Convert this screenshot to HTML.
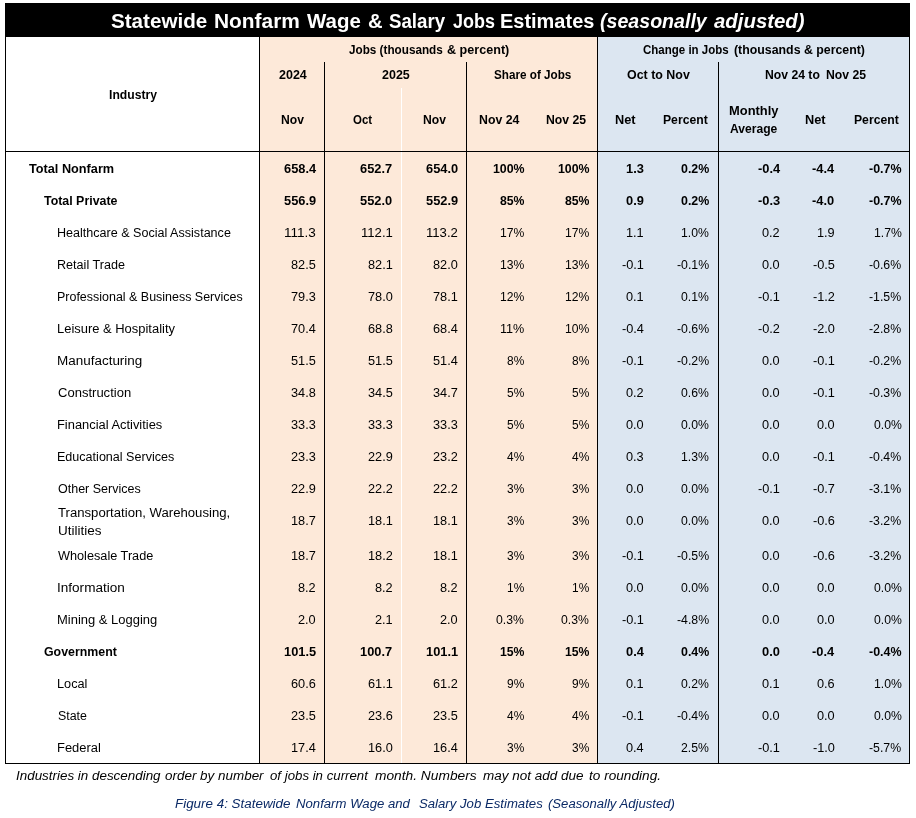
<!DOCTYPE html>
<html lang="en">
<head>
<meta charset="utf-8">
<title>Statewide Nonfarm Wage &amp; Salary Jobs Estimates</title>
<style>
html,body{margin:0;padding:0;background:#fff;}
body{width:916px;height:818px;position:relative;overflow:hidden;font-family:"Liberation Sans",sans-serif;}
#txt{position:absolute;left:0;top:0;width:916px;height:818px;will-change:transform;transform:translateZ(0);}
.b{position:absolute;}
.t{position:absolute;white-space:nowrap;line-height:1;margin:0;padding:0;transform-origin:0 0;font-size:12.5px;color:#000;}
.bd{font-weight:bold;}
.it{font-style:italic;}
.w{color:#fff;font-size:19.4px;}
</style>
</head>
<body>
<div class="b" style="left:5px;top:3px;width:905px;height:761px;background:#000"></div>
<div class="b" style="left:6px;top:37px;width:253px;height:726px;background:#fff"></div>
<div class="b" style="left:260px;top:37px;width:337px;height:726px;background:#FDE9D9"></div>
<div class="b" style="left:598px;top:37px;width:311px;height:726px;background:#DCE6F1"></div>
<div class="b" style="left:401px;top:88px;width:1px;height:675px;background:#fff"></div>
<div class="b" style="left:324px;top:62px;width:1px;height:701px;background:#000"></div>
<div class="b" style="left:466px;top:62px;width:1px;height:701px;background:#000"></div>
<div class="b" style="left:718px;top:62px;width:1px;height:701px;background:#000"></div>
<div class="b" style="left:5px;top:151px;width:905px;height:1px;background:#000"></div>
<div id="txt">
<div class="t bd w" style="left:110.80px;top:11.98px;transform:scaleX(1.0636);">Statewide</div>
<div class="t bd w" style="left:213.72px;top:11.98px;transform:scaleX(1.0767);">Nonfarm</div>
<div class="t bd w" style="left:306.50px;top:11.98px;transform:scaleX(1.0545);">Wage</div>
<div class="t bd w" style="left:367.70px;top:11.98px;transform:scaleX(1.0429);">&amp;</div>
<div class="t bd w" style="left:389.20px;top:11.98px;transform:scaleX(0.9635);">Salary</div>
<div class="t bd w" style="left:452.80px;top:11.98px;transform:scaleX(0.9264);">Jobs</div>
<div class="t bd w" style="left:499.97px;top:11.98px;transform:scaleX(1.0297);">Estimates</div>
<div class="t bd it w" style="left:599.60px;top:11.98px;transform:scaleX(1.0108);">(seasonally</div>
<div class="t bd it w" style="left:714.40px;top:11.98px;transform:scaleX(1.0510);">adjusted)</div>
<div class="t bd" style="left:108.80px;top:88.82px;transform:scaleX(0.9725);">Industry</div>
<div class="t bd" style="left:348.80px;top:44.12px;transform:scaleX(0.9375);">Jobs (thousands</div>
<div class="t bd" style="left:447.10px;top:44.12px;transform:scaleX(1.0072);">&amp; percent)</div>
<div class="t bd" style="left:643.30px;top:44.12px;transform:scaleX(0.9204);">Change in Jobs</div>
<div class="t bd" style="left:733.50px;top:44.12px;transform:scaleX(0.9873);">(thousands &amp; percent)</div>
<div class="t bd" style="left:278.70px;top:69.22px;transform:scaleX(0.9980);">2024</div>
<div class="t bd" style="left:382.30px;top:69.22px;transform:scaleX(0.9980);">2025</div>
<div class="t bd" style="left:494.40px;top:69.22px;transform:scaleX(0.9358);">Share of Jobs</div>
<div class="t bd" style="left:627.20px;top:69.22px;transform:scaleX(0.9946);">Oct to Nov</div>
<div class="t bd" style="left:765.30px;top:69.22px;transform:scaleX(0.9748);">Nov 24 to</div>
<div class="t bd" style="left:825.60px;top:69.22px;transform:scaleX(0.9771);">Nov 25</div>
<div class="t bd" style="left:281.20px;top:114.02px;transform:scaleX(0.9720);">Nov</div>
<div class="t bd" style="left:353.35px;top:114.02px;transform:scaleX(0.9181);">Oct</div>
<div class="t bd" style="left:422.50px;top:114.02px;transform:scaleX(0.9720);">Nov</div>
<div class="t bd" style="left:479.40px;top:114.02px;transform:scaleX(0.9844);">Nov 24</div>
<div class="t bd" style="left:545.50px;top:114.02px;transform:scaleX(0.9771);">Nov 25</div>
<div class="t bd" style="left:615.00px;top:114.02px;transform:scaleX(1.0201);">Net</div>
<div class="t bd" style="left:663.25px;top:114.02px;transform:scaleX(0.9744);">Percent</div>
<div class="t bd" style="left:728.85px;top:105.12px;transform:scaleX(1.0322);">Monthly</div>
<div class="t bd" style="left:729.65px;top:122.72px;transform:scaleX(0.9669);">Average</div>
<div class="t bd" style="left:805.10px;top:114.02px;transform:scaleX(1.0201);">Net</div>
<div class="t bd" style="left:854.25px;top:114.02px;transform:scaleX(0.9744);">Percent</div>
<div class="t bd" style="left:29.20px;top:163.02px;transform:scaleX(1.0158);">Total Nonfarm</div>
<div class="t bd" style="left:283.87px;top:163.02px;transform:scaleX(1.0256);">658.4</div>
<div class="t bd" style="left:360.37px;top:163.02px;transform:scaleX(1.0256);">652.7</div>
<div class="t bd" style="left:425.87px;top:163.02px;transform:scaleX(1.0256);">654.0</div>
<div class="t bd" style="left:492.60px;top:163.02px;transform:scaleX(0.9888);">100%</div>
<div class="t bd" style="left:557.70px;top:163.02px;transform:scaleX(0.9888);">100%</div>
<div class="t bd" style="left:626.07px;top:163.02px;transform:scaleX(1.0292);">1.3</div>
<div class="t bd" style="left:681.06px;top:163.02px;transform:scaleX(0.9917);">0.2%</div>
<div class="t bd" style="left:757.78px;top:163.02px;transform:scaleX(1.0292);">-0.4</div>
<div class="t bd" style="left:812.38px;top:163.02px;transform:scaleX(1.0292);">-4.4</div>
<div class="t bd" style="left:868.88px;top:163.02px;transform:scaleX(0.9965);">-0.7%</div>
<div class="t bd" style="left:44.00px;top:195.02px;transform:scaleX(0.9913);">Total Private</div>
<div class="t bd" style="left:283.87px;top:195.02px;transform:scaleX(1.0256);">556.9</div>
<div class="t bd" style="left:360.37px;top:195.02px;transform:scaleX(1.0256);">552.0</div>
<div class="t bd" style="left:425.87px;top:195.02px;transform:scaleX(1.0256);">552.9</div>
<div class="t bd" style="left:499.70px;top:195.02px;transform:scaleX(0.9799);">85%</div>
<div class="t bd" style="left:564.80px;top:195.02px;transform:scaleX(0.9799);">85%</div>
<div class="t bd" style="left:626.07px;top:195.02px;transform:scaleX(1.0292);">0.9</div>
<div class="t bd" style="left:681.06px;top:195.02px;transform:scaleX(0.9917);">0.2%</div>
<div class="t bd" style="left:757.78px;top:195.02px;transform:scaleX(1.0292);">-0.3</div>
<div class="t bd" style="left:812.38px;top:195.02px;transform:scaleX(1.0292);">-4.0</div>
<div class="t bd" style="left:868.88px;top:195.02px;transform:scaleX(0.9965);">-0.7%</div>
<div class="t" style="left:57.30px;top:227.02px;transform:scaleX(1.0050);">Healthcare &amp; Social Assistance</div>
<div class="t" style="left:284.08px;top:227.02px;transform:scaleX(1.0830);">111.3</div>
<div class="t" style="left:360.58px;top:227.02px;transform:scaleX(1.0500);">112.1</div>
<div class="t" style="left:426.08px;top:227.02px;transform:scaleX(1.0500);">113.2</div>
<div class="t" style="left:499.89px;top:227.02px;transform:scaleX(0.9720);">17%</div>
<div class="t" style="left:564.99px;top:227.02px;transform:scaleX(0.9720);">17%</div>
<div class="t" style="left:626.28px;top:227.02px;transform:scaleX(1.0172);">1.1</div>
<div class="t" style="left:681.47px;top:227.02px;transform:scaleX(0.9774);">1.0%</div>
<div class="t" style="left:762.28px;top:227.02px;transform:scaleX(1.0172);">0.2</div>
<div class="t" style="left:816.88px;top:227.02px;transform:scaleX(1.0172);">1.9</div>
<div class="t" style="left:873.57px;top:227.02px;transform:scaleX(0.9774);">1.7%</div>
<div class="t" style="left:57.29px;top:259.02px;transform:scaleX(1.0080);">Retail Trade</div>
<div class="t" style="left:291.18px;top:259.02px;transform:scaleX(1.0183);">82.5</div>
<div class="t" style="left:367.68px;top:259.02px;transform:scaleX(1.0183);">82.1</div>
<div class="t" style="left:433.18px;top:259.02px;transform:scaleX(1.0183);">82.0</div>
<div class="t" style="left:499.89px;top:259.02px;transform:scaleX(0.9720);">13%</div>
<div class="t" style="left:564.99px;top:259.02px;transform:scaleX(0.9720);">13%</div>
<div class="t" style="left:621.99px;top:259.02px;transform:scaleX(1.0195);">-0.1</div>
<div class="t" style="left:677.18px;top:259.02px;transform:scaleX(0.9840);">-0.1%</div>
<div class="t" style="left:762.28px;top:259.02px;transform:scaleX(1.0172);">0.0</div>
<div class="t" style="left:812.59px;top:259.02px;transform:scaleX(1.0195);">-0.5</div>
<div class="t" style="left:869.28px;top:259.02px;transform:scaleX(0.9840);">-0.6%</div>
<div class="t" style="left:57.30px;top:291.02px;transform:scaleX(0.9971);">Professional &amp; Business Services</div>
<div class="t" style="left:291.18px;top:291.02px;transform:scaleX(1.0183);">79.3</div>
<div class="t" style="left:367.68px;top:291.02px;transform:scaleX(1.0183);">78.0</div>
<div class="t" style="left:433.18px;top:291.02px;transform:scaleX(1.0183);">78.1</div>
<div class="t" style="left:499.89px;top:291.02px;transform:scaleX(0.9720);">12%</div>
<div class="t" style="left:564.99px;top:291.02px;transform:scaleX(0.9720);">12%</div>
<div class="t" style="left:626.28px;top:291.02px;transform:scaleX(1.0172);">0.1</div>
<div class="t" style="left:681.47px;top:291.02px;transform:scaleX(0.9774);">0.1%</div>
<div class="t" style="left:757.99px;top:291.02px;transform:scaleX(1.0195);">-0.1</div>
<div class="t" style="left:812.59px;top:291.02px;transform:scaleX(1.0195);">-1.2</div>
<div class="t" style="left:869.28px;top:291.02px;transform:scaleX(0.9840);">-1.5%</div>
<div class="t" style="left:57.26px;top:323.02px;transform:scaleX(1.0353);">Leisure &amp; Hospitality</div>
<div class="t" style="left:291.18px;top:323.02px;transform:scaleX(1.0183);">70.4</div>
<div class="t" style="left:367.68px;top:323.02px;transform:scaleX(1.0183);">68.8</div>
<div class="t" style="left:433.18px;top:323.02px;transform:scaleX(1.0183);">68.4</div>
<div class="t" style="left:499.89px;top:323.02px;transform:scaleX(1.0096);">11%</div>
<div class="t" style="left:564.99px;top:323.02px;transform:scaleX(0.9720);">10%</div>
<div class="t" style="left:621.99px;top:323.02px;transform:scaleX(1.0195);">-0.4</div>
<div class="t" style="left:677.18px;top:323.02px;transform:scaleX(0.9840);">-0.6%</div>
<div class="t" style="left:757.99px;top:323.02px;transform:scaleX(1.0195);">-0.2</div>
<div class="t" style="left:812.59px;top:323.02px;transform:scaleX(1.0195);">-2.0</div>
<div class="t" style="left:869.28px;top:323.02px;transform:scaleX(0.9840);">-2.8%</div>
<div class="t" style="left:57.22px;top:355.02px;transform:scaleX(1.0772);">Manufacturing</div>
<div class="t" style="left:291.18px;top:355.02px;transform:scaleX(1.0183);">51.5</div>
<div class="t" style="left:367.68px;top:355.02px;transform:scaleX(1.0183);">51.5</div>
<div class="t" style="left:433.18px;top:355.02px;transform:scaleX(1.0183);">51.4</div>
<div class="t" style="left:506.99px;top:355.02px;transform:scaleX(0.9530);">8%</div>
<div class="t" style="left:572.09px;top:355.02px;transform:scaleX(0.9530);">8%</div>
<div class="t" style="left:621.99px;top:355.02px;transform:scaleX(1.0195);">-0.1</div>
<div class="t" style="left:677.18px;top:355.02px;transform:scaleX(0.9840);">-0.2%</div>
<div class="t" style="left:762.28px;top:355.02px;transform:scaleX(1.0172);">0.0</div>
<div class="t" style="left:812.59px;top:355.02px;transform:scaleX(1.0195);">-0.1</div>
<div class="t" style="left:869.28px;top:355.02px;transform:scaleX(0.9840);">-0.2%</div>
<div class="t" style="left:58.30px;top:387.02px;transform:scaleX(1.0424);">Construction</div>
<div class="t" style="left:291.18px;top:387.02px;transform:scaleX(1.0183);">34.8</div>
<div class="t" style="left:367.68px;top:387.02px;transform:scaleX(1.0183);">34.5</div>
<div class="t" style="left:433.18px;top:387.02px;transform:scaleX(1.0183);">34.7</div>
<div class="t" style="left:506.99px;top:387.02px;transform:scaleX(0.9530);">5%</div>
<div class="t" style="left:572.09px;top:387.02px;transform:scaleX(0.9530);">5%</div>
<div class="t" style="left:626.28px;top:387.02px;transform:scaleX(1.0172);">0.2</div>
<div class="t" style="left:681.47px;top:387.02px;transform:scaleX(0.9774);">0.6%</div>
<div class="t" style="left:762.28px;top:387.02px;transform:scaleX(1.0172);">0.0</div>
<div class="t" style="left:812.59px;top:387.02px;transform:scaleX(1.0195);">-0.1</div>
<div class="t" style="left:869.28px;top:387.02px;transform:scaleX(0.9840);">-0.3%</div>
<div class="t" style="left:57.27px;top:419.02px;transform:scaleX(1.0309);">Financial Activities</div>
<div class="t" style="left:291.18px;top:419.02px;transform:scaleX(1.0183);">33.3</div>
<div class="t" style="left:367.68px;top:419.02px;transform:scaleX(1.0183);">33.3</div>
<div class="t" style="left:433.18px;top:419.02px;transform:scaleX(1.0183);">33.3</div>
<div class="t" style="left:506.99px;top:419.02px;transform:scaleX(0.9530);">5%</div>
<div class="t" style="left:572.09px;top:419.02px;transform:scaleX(0.9530);">5%</div>
<div class="t" style="left:626.28px;top:419.02px;transform:scaleX(1.0172);">0.0</div>
<div class="t" style="left:681.47px;top:419.02px;transform:scaleX(0.9774);">0.0%</div>
<div class="t" style="left:762.28px;top:419.02px;transform:scaleX(1.0172);">0.0</div>
<div class="t" style="left:816.88px;top:419.02px;transform:scaleX(1.0172);">0.0</div>
<div class="t" style="left:873.57px;top:419.02px;transform:scaleX(0.9774);">0.0%</div>
<div class="t" style="left:57.30px;top:451.02px;transform:scaleX(1.0045);">Educational Services</div>
<div class="t" style="left:291.18px;top:451.02px;transform:scaleX(1.0183);">23.3</div>
<div class="t" style="left:367.68px;top:451.02px;transform:scaleX(1.0183);">22.9</div>
<div class="t" style="left:433.18px;top:451.02px;transform:scaleX(1.0183);">23.2</div>
<div class="t" style="left:506.99px;top:451.02px;transform:scaleX(0.9530);">4%</div>
<div class="t" style="left:572.09px;top:451.02px;transform:scaleX(0.9530);">4%</div>
<div class="t" style="left:626.28px;top:451.02px;transform:scaleX(1.0172);">0.3</div>
<div class="t" style="left:681.47px;top:451.02px;transform:scaleX(0.9774);">1.3%</div>
<div class="t" style="left:762.28px;top:451.02px;transform:scaleX(1.0172);">0.0</div>
<div class="t" style="left:812.59px;top:451.02px;transform:scaleX(1.0195);">-0.1</div>
<div class="t" style="left:869.28px;top:451.02px;transform:scaleX(0.9840);">-0.4%</div>
<div class="t" style="left:58.30px;top:483.02px;transform:scaleX(0.9998);">Other Services</div>
<div class="t" style="left:291.18px;top:483.02px;transform:scaleX(1.0183);">22.9</div>
<div class="t" style="left:367.68px;top:483.02px;transform:scaleX(1.0183);">22.2</div>
<div class="t" style="left:433.18px;top:483.02px;transform:scaleX(1.0183);">22.2</div>
<div class="t" style="left:506.99px;top:483.02px;transform:scaleX(0.9530);">3%</div>
<div class="t" style="left:572.09px;top:483.02px;transform:scaleX(0.9530);">3%</div>
<div class="t" style="left:626.28px;top:483.02px;transform:scaleX(1.0172);">0.0</div>
<div class="t" style="left:681.47px;top:483.02px;transform:scaleX(0.9774);">0.0%</div>
<div class="t" style="left:757.99px;top:483.02px;transform:scaleX(1.0195);">-0.1</div>
<div class="t" style="left:812.59px;top:483.02px;transform:scaleX(1.0195);">-0.7</div>
<div class="t" style="left:869.28px;top:483.02px;transform:scaleX(0.9840);">-3.1%</div>
<div class="t" style="left:58.30px;top:507.12px;transform:scaleX(1.0517);">Transportation, Warehousing,</div>
<div class="t" style="left:58.30px;top:525.12px;transform:scaleX(1.0791);">Utilities</div>
<div class="t" style="left:291.18px;top:515.42px;transform:scaleX(1.0183);">18.7</div>
<div class="t" style="left:367.68px;top:515.42px;transform:scaleX(1.0183);">18.1</div>
<div class="t" style="left:433.18px;top:515.42px;transform:scaleX(1.0183);">18.1</div>
<div class="t" style="left:506.99px;top:515.42px;transform:scaleX(0.9530);">3%</div>
<div class="t" style="left:572.09px;top:515.42px;transform:scaleX(0.9530);">3%</div>
<div class="t" style="left:626.28px;top:515.42px;transform:scaleX(1.0172);">0.0</div>
<div class="t" style="left:681.47px;top:515.42px;transform:scaleX(0.9774);">0.0%</div>
<div class="t" style="left:762.28px;top:515.42px;transform:scaleX(1.0172);">0.0</div>
<div class="t" style="left:812.59px;top:515.42px;transform:scaleX(1.0195);">-0.6</div>
<div class="t" style="left:869.28px;top:515.42px;transform:scaleX(0.9840);">-3.2%</div>
<div class="t" style="left:58.30px;top:550.02px;transform:scaleX(1.0162);">Wholesale Trade</div>
<div class="t" style="left:291.18px;top:550.02px;transform:scaleX(1.0183);">18.7</div>
<div class="t" style="left:367.68px;top:550.02px;transform:scaleX(1.0183);">18.2</div>
<div class="t" style="left:433.18px;top:550.02px;transform:scaleX(1.0183);">18.1</div>
<div class="t" style="left:506.99px;top:550.02px;transform:scaleX(0.9530);">3%</div>
<div class="t" style="left:572.09px;top:550.02px;transform:scaleX(0.9530);">3%</div>
<div class="t" style="left:621.99px;top:550.02px;transform:scaleX(1.0195);">-0.1</div>
<div class="t" style="left:677.18px;top:550.02px;transform:scaleX(0.9840);">-0.5%</div>
<div class="t" style="left:762.28px;top:550.02px;transform:scaleX(1.0172);">0.0</div>
<div class="t" style="left:812.59px;top:550.02px;transform:scaleX(1.0195);">-0.6</div>
<div class="t" style="left:869.28px;top:550.02px;transform:scaleX(0.9840);">-3.2%</div>
<div class="t" style="left:57.22px;top:582.02px;transform:scaleX(1.0848);">Information</div>
<div class="t" style="left:298.28px;top:582.02px;transform:scaleX(1.0172);">8.2</div>
<div class="t" style="left:374.78px;top:582.02px;transform:scaleX(1.0172);">8.2</div>
<div class="t" style="left:440.28px;top:582.02px;transform:scaleX(1.0172);">8.2</div>
<div class="t" style="left:506.99px;top:582.02px;transform:scaleX(0.9530);">1%</div>
<div class="t" style="left:572.09px;top:582.02px;transform:scaleX(0.9530);">1%</div>
<div class="t" style="left:626.28px;top:582.02px;transform:scaleX(1.0172);">0.0</div>
<div class="t" style="left:681.47px;top:582.02px;transform:scaleX(0.9774);">0.0%</div>
<div class="t" style="left:762.28px;top:582.02px;transform:scaleX(1.0172);">0.0</div>
<div class="t" style="left:816.88px;top:582.02px;transform:scaleX(1.0172);">0.0</div>
<div class="t" style="left:873.57px;top:582.02px;transform:scaleX(0.9774);">0.0%</div>
<div class="t" style="left:57.26px;top:614.02px;transform:scaleX(1.0372);">Mining &amp; Logging</div>
<div class="t" style="left:298.28px;top:614.02px;transform:scaleX(1.0172);">2.0</div>
<div class="t" style="left:374.78px;top:614.02px;transform:scaleX(1.0172);">2.1</div>
<div class="t" style="left:440.28px;top:614.02px;transform:scaleX(1.0172);">2.0</div>
<div class="t" style="left:496.37px;top:614.02px;transform:scaleX(0.9774);">0.3%</div>
<div class="t" style="left:561.47px;top:614.02px;transform:scaleX(0.9774);">0.3%</div>
<div class="t" style="left:621.99px;top:614.02px;transform:scaleX(1.0195);">-0.1</div>
<div class="t" style="left:677.18px;top:614.02px;transform:scaleX(0.9840);">-4.8%</div>
<div class="t" style="left:762.28px;top:614.02px;transform:scaleX(1.0172);">0.0</div>
<div class="t" style="left:816.88px;top:614.02px;transform:scaleX(1.0172);">0.0</div>
<div class="t" style="left:873.57px;top:614.02px;transform:scaleX(0.9774);">0.0%</div>
<div class="t bd" style="left:44.00px;top:646.02px;transform:scaleX(0.9897);">Government</div>
<div class="t bd" style="left:283.87px;top:646.02px;transform:scaleX(1.0256);">101.5</div>
<div class="t bd" style="left:360.37px;top:646.02px;transform:scaleX(1.0256);">100.7</div>
<div class="t bd" style="left:425.87px;top:646.02px;transform:scaleX(1.0256);">101.1</div>
<div class="t bd" style="left:499.70px;top:646.02px;transform:scaleX(0.9799);">15%</div>
<div class="t bd" style="left:564.80px;top:646.02px;transform:scaleX(0.9799);">15%</div>
<div class="t bd" style="left:626.07px;top:646.02px;transform:scaleX(1.0292);">0.4</div>
<div class="t bd" style="left:681.06px;top:646.02px;transform:scaleX(0.9917);">0.4%</div>
<div class="t bd" style="left:762.07px;top:646.02px;transform:scaleX(1.0292);">0.0</div>
<div class="t bd" style="left:812.38px;top:646.02px;transform:scaleX(1.0292);">-0.4</div>
<div class="t bd" style="left:868.88px;top:646.02px;transform:scaleX(0.9965);">-0.4%</div>
<div class="t" style="left:57.28px;top:678.02px;transform:scaleX(1.0176);">Local</div>
<div class="t" style="left:291.18px;top:678.02px;transform:scaleX(1.0183);">60.6</div>
<div class="t" style="left:367.68px;top:678.02px;transform:scaleX(1.0183);">61.1</div>
<div class="t" style="left:433.18px;top:678.02px;transform:scaleX(1.0183);">61.2</div>
<div class="t" style="left:506.99px;top:678.02px;transform:scaleX(0.9530);">9%</div>
<div class="t" style="left:572.09px;top:678.02px;transform:scaleX(0.9530);">9%</div>
<div class="t" style="left:626.28px;top:678.02px;transform:scaleX(1.0172);">0.1</div>
<div class="t" style="left:681.47px;top:678.02px;transform:scaleX(0.9774);">0.2%</div>
<div class="t" style="left:762.28px;top:678.02px;transform:scaleX(1.0172);">0.1</div>
<div class="t" style="left:816.88px;top:678.02px;transform:scaleX(1.0172);">0.6</div>
<div class="t" style="left:873.57px;top:678.02px;transform:scaleX(0.9774);">1.0%</div>
<div class="t" style="left:58.30px;top:710.02px;transform:scaleX(0.9920);">State</div>
<div class="t" style="left:291.18px;top:710.02px;transform:scaleX(1.0183);">23.5</div>
<div class="t" style="left:367.68px;top:710.02px;transform:scaleX(1.0183);">23.6</div>
<div class="t" style="left:433.18px;top:710.02px;transform:scaleX(1.0183);">23.5</div>
<div class="t" style="left:506.99px;top:710.02px;transform:scaleX(0.9530);">4%</div>
<div class="t" style="left:572.09px;top:710.02px;transform:scaleX(0.9530);">4%</div>
<div class="t" style="left:621.99px;top:710.02px;transform:scaleX(1.0195);">-0.1</div>
<div class="t" style="left:677.18px;top:710.02px;transform:scaleX(0.9840);">-0.4%</div>
<div class="t" style="left:762.28px;top:710.02px;transform:scaleX(1.0172);">0.0</div>
<div class="t" style="left:816.88px;top:710.02px;transform:scaleX(1.0172);">0.0</div>
<div class="t" style="left:873.57px;top:710.02px;transform:scaleX(0.9774);">0.0%</div>
<div class="t" style="left:57.27px;top:742.02px;transform:scaleX(1.0343);">Federal</div>
<div class="t" style="left:291.18px;top:742.02px;transform:scaleX(1.0183);">17.4</div>
<div class="t" style="left:367.68px;top:742.02px;transform:scaleX(1.0183);">16.0</div>
<div class="t" style="left:433.18px;top:742.02px;transform:scaleX(1.0183);">16.4</div>
<div class="t" style="left:506.99px;top:742.02px;transform:scaleX(0.9530);">3%</div>
<div class="t" style="left:572.09px;top:742.02px;transform:scaleX(0.9530);">3%</div>
<div class="t" style="left:626.28px;top:742.02px;transform:scaleX(1.0172);">0.4</div>
<div class="t" style="left:681.47px;top:742.02px;transform:scaleX(0.9774);">2.5%</div>
<div class="t" style="left:757.99px;top:742.02px;transform:scaleX(1.0195);">-0.1</div>
<div class="t" style="left:812.59px;top:742.02px;transform:scaleX(1.0195);">-1.0</div>
<div class="t" style="left:869.28px;top:742.02px;transform:scaleX(0.9840);">-5.7%</div>
<div class="t it" style="left:15.50px;top:770.12px;transform:scaleX(1.0723);">Industries in descending</div>
<div class="t it" style="left:165.20px;top:770.12px;transform:scaleX(1.0751);">order by number</div>
<div class="t it" style="left:270.30px;top:770.12px;transform:scaleX(1.0588);">of jobs in current</div>
<div class="t it" style="left:375.17px;top:770.12px;transform:scaleX(1.1000);">month. Numbers</div>
<div class="t it" style="left:483.20px;top:770.12px;transform:scaleX(1.0787);">may not add due</div>
<div class="t it" style="left:589.40px;top:770.12px;transform:scaleX(1.0906);">to rounding.</div>
<div class="t it" style="left:175.10px;top:798.02px;color:#0B2A66;transform:scaleX(1.0720);">Figure 4: Statewide</div>
<div class="t it" style="left:296.30px;top:798.02px;color:#0B2A66;transform:scaleX(1.0530);">Nonfarm Wage and</div>
<div class="t it" style="left:418.60px;top:798.02px;color:#0B2A66;transform:scaleX(1.0541);">Salary Job Estimates</div>
<div class="t it" style="left:548.20px;top:798.02px;color:#0B2A66;transform:scaleX(1.0475);">(Seasonally Adjusted)</div>
</div>
</body>
</html>
